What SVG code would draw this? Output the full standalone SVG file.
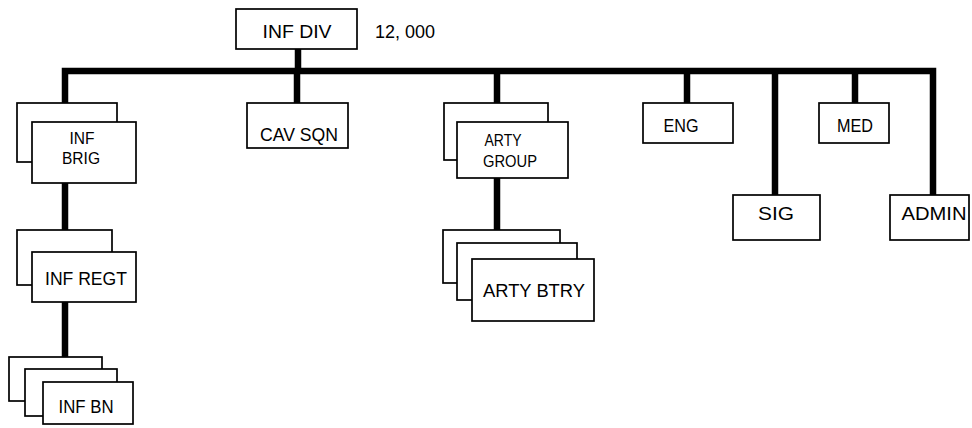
<svg xmlns="http://www.w3.org/2000/svg" width="972" height="428" viewBox="0 0 972 428">
<style>
.box{fill:#fff;stroke:#000;stroke-width:1.7}
.con{fill:none;stroke:#000;stroke-width:6.5;stroke-linejoin:miter;stroke-linecap:butt}
text{font-family:"Liberation Sans",Arial,sans-serif;font-size:19px;fill:#000;text-anchor:middle}
.two{font-size:17px}
</style>
<rect width="972" height="428" fill="#fff"/>
<g id="connectors">
<path class="con" d="M65,103 V71 H933 V195"/>
<path class="con" d="M298,49 V71"/>
<path class="con" d="M297,71 V103"/>
<path class="con" d="M497,71 V103"/>
<path class="con" d="M687,71 V103"/>
<path class="con" d="M775,71 V195"/>
<path class="con" d="M855,71 V103"/>
<path class="con" d="M65,183 V230"/>
<path class="con" d="M65,302 V357"/>
<path class="con" d="M497,178 V230"/>
</g>
<g id="inf-div">
<rect class="box" x="236" y="9" width="121" height="40"/>
<text x="297" y="38" textLength="69" lengthAdjust="spacingAndGlyphs">INF DIV</text>
<text x="405" y="38" textLength="60" lengthAdjust="spacingAndGlyphs">12, 000</text>
</g>
<g id="inf-brig">
<rect class="box" x="17" y="103" width="100" height="59"/>
<rect class="box" x="32" y="122" width="104" height="61"/>
<text class="two" x="82" y="144" textLength="25" lengthAdjust="spacingAndGlyphs">INF</text>
<text class="two" x="81" y="164" textLength="38" lengthAdjust="spacingAndGlyphs">BRIG</text>
</g>
<g id="cav-sqn">
<rect class="box" x="247" y="103" width="101" height="45"/>
<text x="299" y="141" textLength="78" lengthAdjust="spacingAndGlyphs">CAV SQN</text>
</g>
<g id="arty-group">
<rect class="box" x="444" y="103" width="104" height="57"/>
<rect class="box" x="457" y="122" width="111" height="56"/>
<text class="two" x="503" y="146" textLength="37" lengthAdjust="spacingAndGlyphs">ARTY</text>
<text class="two" x="510" y="167" textLength="54" lengthAdjust="spacingAndGlyphs">GROUP</text>
</g>
<g id="eng">
<rect class="box" x="643" y="103" width="90" height="40"/>
<text x="681" y="132" textLength="35" lengthAdjust="spacingAndGlyphs">ENG</text>
</g>
<g id="med">
<rect class="box" x="819" y="103" width="70" height="40"/>
<text x="855" y="132" textLength="36" lengthAdjust="spacingAndGlyphs">MED</text>
</g>
<g id="sig">
<rect class="box" x="733" y="195" width="87" height="45"/>
<text x="776" y="220" textLength="36" lengthAdjust="spacingAndGlyphs">SIG</text>
</g>
<g id="admin">
<rect class="box" x="890" y="195" width="79" height="45"/>
<text x="934" y="220" textLength="65" lengthAdjust="spacingAndGlyphs">ADMIN</text>
</g>
<g id="inf-regt">
<rect class="box" x="17" y="230" width="95" height="55"/>
<rect class="box" x="32" y="252" width="104" height="50"/>
<text x="86" y="285" textLength="82" lengthAdjust="spacingAndGlyphs">INF REGT</text>
</g>
<g id="arty-btry">
<rect class="box" x="443" y="230" width="117" height="53"/>
<rect class="box" x="457" y="243" width="120" height="57"/>
<rect class="box" x="472" y="259" width="122" height="62"/>
<text x="534" y="297" textLength="102" lengthAdjust="spacingAndGlyphs">ARTY BTRY</text>
</g>
<g id="inf-bn">
<rect class="box" x="9" y="357" width="93" height="44"/>
<rect class="box" x="25" y="369" width="92" height="47"/>
<rect class="box" x="43" y="382" width="90" height="42"/>
<text x="86" y="413" textLength="55" lengthAdjust="spacingAndGlyphs">INF BN</text>
</g>
</svg>
